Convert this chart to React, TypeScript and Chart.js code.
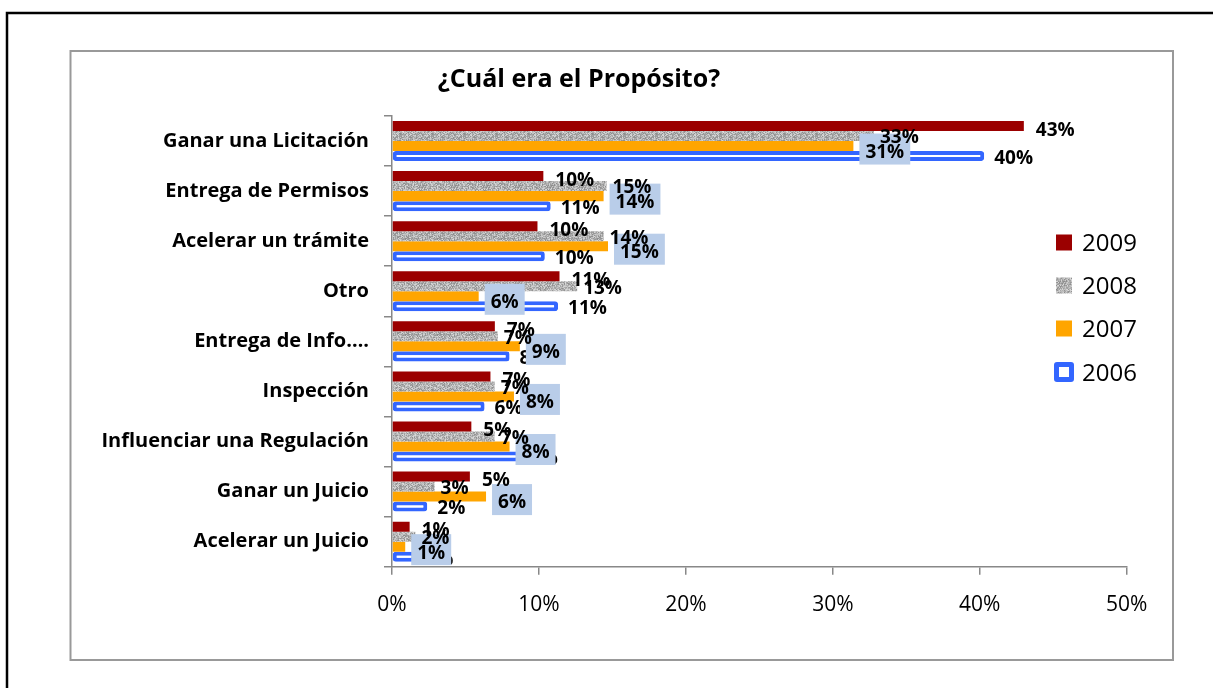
import { useEffect, useRef } from "react";
import { Chart, registerables } from "chart.js";

Chart.register(...registerables);

const FONT = "'Open Sans', Lato, sans-serif";

const categories = [
  "Ganar una Licitación",
  "Entrega de Permisos",
  "Acelerar un trámite",
  "Otro",
  "Entrega de Info….",
  "Inspección",
  "Influenciar una Regulación",
  "Ganar un Juicio",
  "Acelerar un Juicio",
];

const seriesNames = ["2009", "2008", "2007", "2006"];

const s2009 = [43.0, 10.3, 9.9, 11.4, 7.0, 6.7, 5.4, 5.3, 1.2];
const s2008 = [32.8, 14.6, 14.4, 12.6, 7.2, 7.0, 7.0, 2.9, 1.6];
const s2007 = [31.4, 14.4, 14.7, 5.9, 8.7, 8.3, 8.0, 6.4, 0.9];
const s2006 = [40.3, 10.8, 10.4, 11.3, 8.0, 6.3, 8.7, 2.4, 1.6];

const xMax = 50;
const xStep = 10;

const title = "¿Cuál era el Propósito?";

const RED = "#9B0000";
const ORANGE = "#FFA500";
const BLUE = "#3366FF";
const BOX = "#B9CDE9";

function makeGrayPattern(ctx: CanvasRenderingContext2D): CanvasPattern | string {
  const c = document.createElement("canvas");
  c.width = 32;
  c.height = 32;
  const g = c.getContext("2d");
  if (!g) return "#AAAAAA";
  const img = g.createImageData(32, 32);
  let s = 987654321;
  for (let i = 0; i < 32 * 32; i++) {
    s = (s * 1103515245 + 12345) & 0x7fffffff;
    const v = 140 + ((s >> 9) % 80);
    img.data[i * 4] = v;
    img.data[i * 4 + 1] = v;
    img.data[i * 4 + 2] = v;
    img.data[i * 4 + 3] = 255;
  }
  g.putImageData(img, 0, 0);
  return ctx.createPattern(c, "repeat") || "#AAAAAA";
}

export default function App() {
  const ref = useRef<HTMLCanvasElement>(null);

  useEffect(() => {
    const canvas = ref.current;
    if (!canvas) return;
    const ctx0 = canvas.getContext("2d")!;
    const gray = makeGrayPattern(ctx0);

    const framePlugin = {
      id: "frames",
      beforeDraw(chart: any) {
        const ctx = chart.ctx as CanvasRenderingContext2D;
        ctx.save();
        ctx.fillStyle = "#fff";
        ctx.fillRect(0, 0, chart.width, chart.height);
        ctx.strokeStyle = "#000";
        ctx.lineWidth = 2.5;
        ctx.beginPath();
        ctx.moveTo(7, 690);
        ctx.lineTo(7, 13);
        ctx.lineTo(1215, 13);
        ctx.stroke();
        ctx.strokeStyle = "#999";
        ctx.lineWidth = 2;
        ctx.strokeRect(70.5, 51, 1102.5, 609);
        ctx.restore();
      },
    };

    const labelPlugin = {
      id: "valueLabels",
      afterDatasetsDraw(chart: any) {
        const ctx = chart.ctx as CanvasRenderingContext2D;
        ctx.save();
        const fs = 19;
        ctx.font = `bold ${fs}px ${FONT}`;
        ctx.textAlign = "left";
        ctx.textBaseline = "alphabetic";
        const half = fs * 0.36;
        const order = [3, 2, 1, 0];
        for (const di of order) {
          const meta = chart.getDatasetMeta(di);
          const data = chart.data.datasets[di].data as number[];
          meta.data.forEach((bar: any, i: number) => {
            const txt = Math.round(data[i]) + "%";
            const x = bar.x;
            const y = bar.y;
            if (di === 2) {
              const w = ctx.measureText(txt).width;
              const bx = x + 6;
              const bw = w + 12;
              const bh = 31;
              const by = y + 3 - bh / 2;
              ctx.fillStyle = BOX;
              ctx.fillRect(bx, by, bw, bh);
              ctx.fillStyle = "#000";
              ctx.fillText(txt, bx + 6, y + 5 + half);
            } else if (di === 0) {
              ctx.fillStyle = "#000";
              ctx.fillText(txt, x + 12, y + 3 + half);
            } else if (di === 1) {
              ctx.fillStyle = "#000";
              ctx.fillText(txt, x + 6, y + 0.5 + half);
            } else {
              ctx.fillStyle = "#000";
              ctx.fillText(txt, x + 10, y + 1 + half);
            }
          });
        }
        ctx.restore();
      },
    };

    const decorPlugin = {
      id: "decor",
      afterDraw(chart: any) {
        const ctx = chart.ctx as CanvasRenderingContext2D;
        ctx.save();
        // title
        ctx.font = `bold 25px ${FONT}`;
        ctx.fillStyle = "#000";
        ctx.textAlign = "center";
        ctx.textBaseline = "alphabetic";
        ctx.fillText(title, 579, 87);
        // legend
        const ys = [242.5, 285.5, 328.5, 372];
        const fills: (string | CanvasPattern)[] = [RED, gray, ORANGE, "#fff"];
        ctx.font = `24px ${FONT}`;
        ctx.textAlign = "left";
        seriesNames.forEach((name, k) => {
          const cy = ys[k];
          if (k === 3) {
            ctx.fillStyle = BLUE;
            ctx.beginPath();
            (ctx as any).roundRect(1054, cy - 10, 20, 20, 3);
            ctx.fill();
            ctx.fillStyle = "#fff";
            ctx.fillRect(1059, cy - 5, 10, 10);
          } else {
            ctx.fillStyle = fills[k] as any;
            ctx.fillRect(1056, cy - 8, 16, 16);
          }
          ctx.fillStyle = "#000";
          ctx.fillText(name, 1082, cy + 8.6);
        });
        ctx.restore();
      },
    };

    const chart = new Chart(canvas, {
      type: "bar",
      data: {
        labels: categories,
        datasets: [
          { label: seriesNames[0], data: s2009, backgroundColor: RED, borderWidth: 0 },
          { label: seriesNames[1], data: s2008, backgroundColor: gray as any, borderWidth: 0 },
          { label: seriesNames[2], data: s2007, backgroundColor: ORANGE, borderWidth: 0 },
          {
            label: seriesNames[3],
            data: s2006,
            backgroundColor: "#fff",
            borderColor: BLUE,
            borderWidth: 4,
            borderRadius: 3,
            borderSkipped: false,
          },
        ],
      },
      options: {
        indexAxis: "y",
        responsive: false,
        animation: false,
        devicePixelRatio: 1,
        datasets: { bar: { categoryPercentage: 0.8, barPercentage: 1.0 } },
        layout: { padding: { left: 0, top: 116, right: 86.3, bottom: 61.3 } },
        plugins: {
          legend: { display: false },
          title: { display: false },
          tooltip: { enabled: false },
        },
        scales: {
          y: {
            type: "category",
            offset: true,
            afterFit(scale: any) {
              scale.width = 392;
            },
            grid: {
              offset: true,
              drawOnChartArea: false,
              drawTicks: true,
              tickLength: 8,
              color: "#888",
              lineWidth: 1.5,
            },
            border: { display: true, color: "#888", width: 1.5 },
            ticks: {
              autoSkip: false,
              padding: 15,
              color: "#000",
              font: { family: FONT, size: 20, weight: "bold" },
            },
          },
          x: {
            min: 0,
            max: xMax,
            afterFit(scale: any) {
              scale.height = 60;
            },
            grid: {
              drawOnChartArea: false,
              drawTicks: true,
              tickLength: 8,
              color: "#888",
              lineWidth: 1.5,
            },
            border: { display: true, color: "#888", width: 1.5 },
            ticks: {
              stepSize: xStep,
              padding: 18,
              color: "#000",
              font: { family: FONT, size: 21 },
              callback: (v: any) => v + "%",
            },
          },
        },
      },
      plugins: [framePlugin, labelPlugin, decorPlugin],
    } as any);

    return () => chart.destroy();
  }, []);

  return (
    <canvas
      ref={ref}
      width={1213}
      height={688}
      style={{ position: "fixed", left: 0, top: 0, width: 1213, height: 688 }}
    />
  );
}
